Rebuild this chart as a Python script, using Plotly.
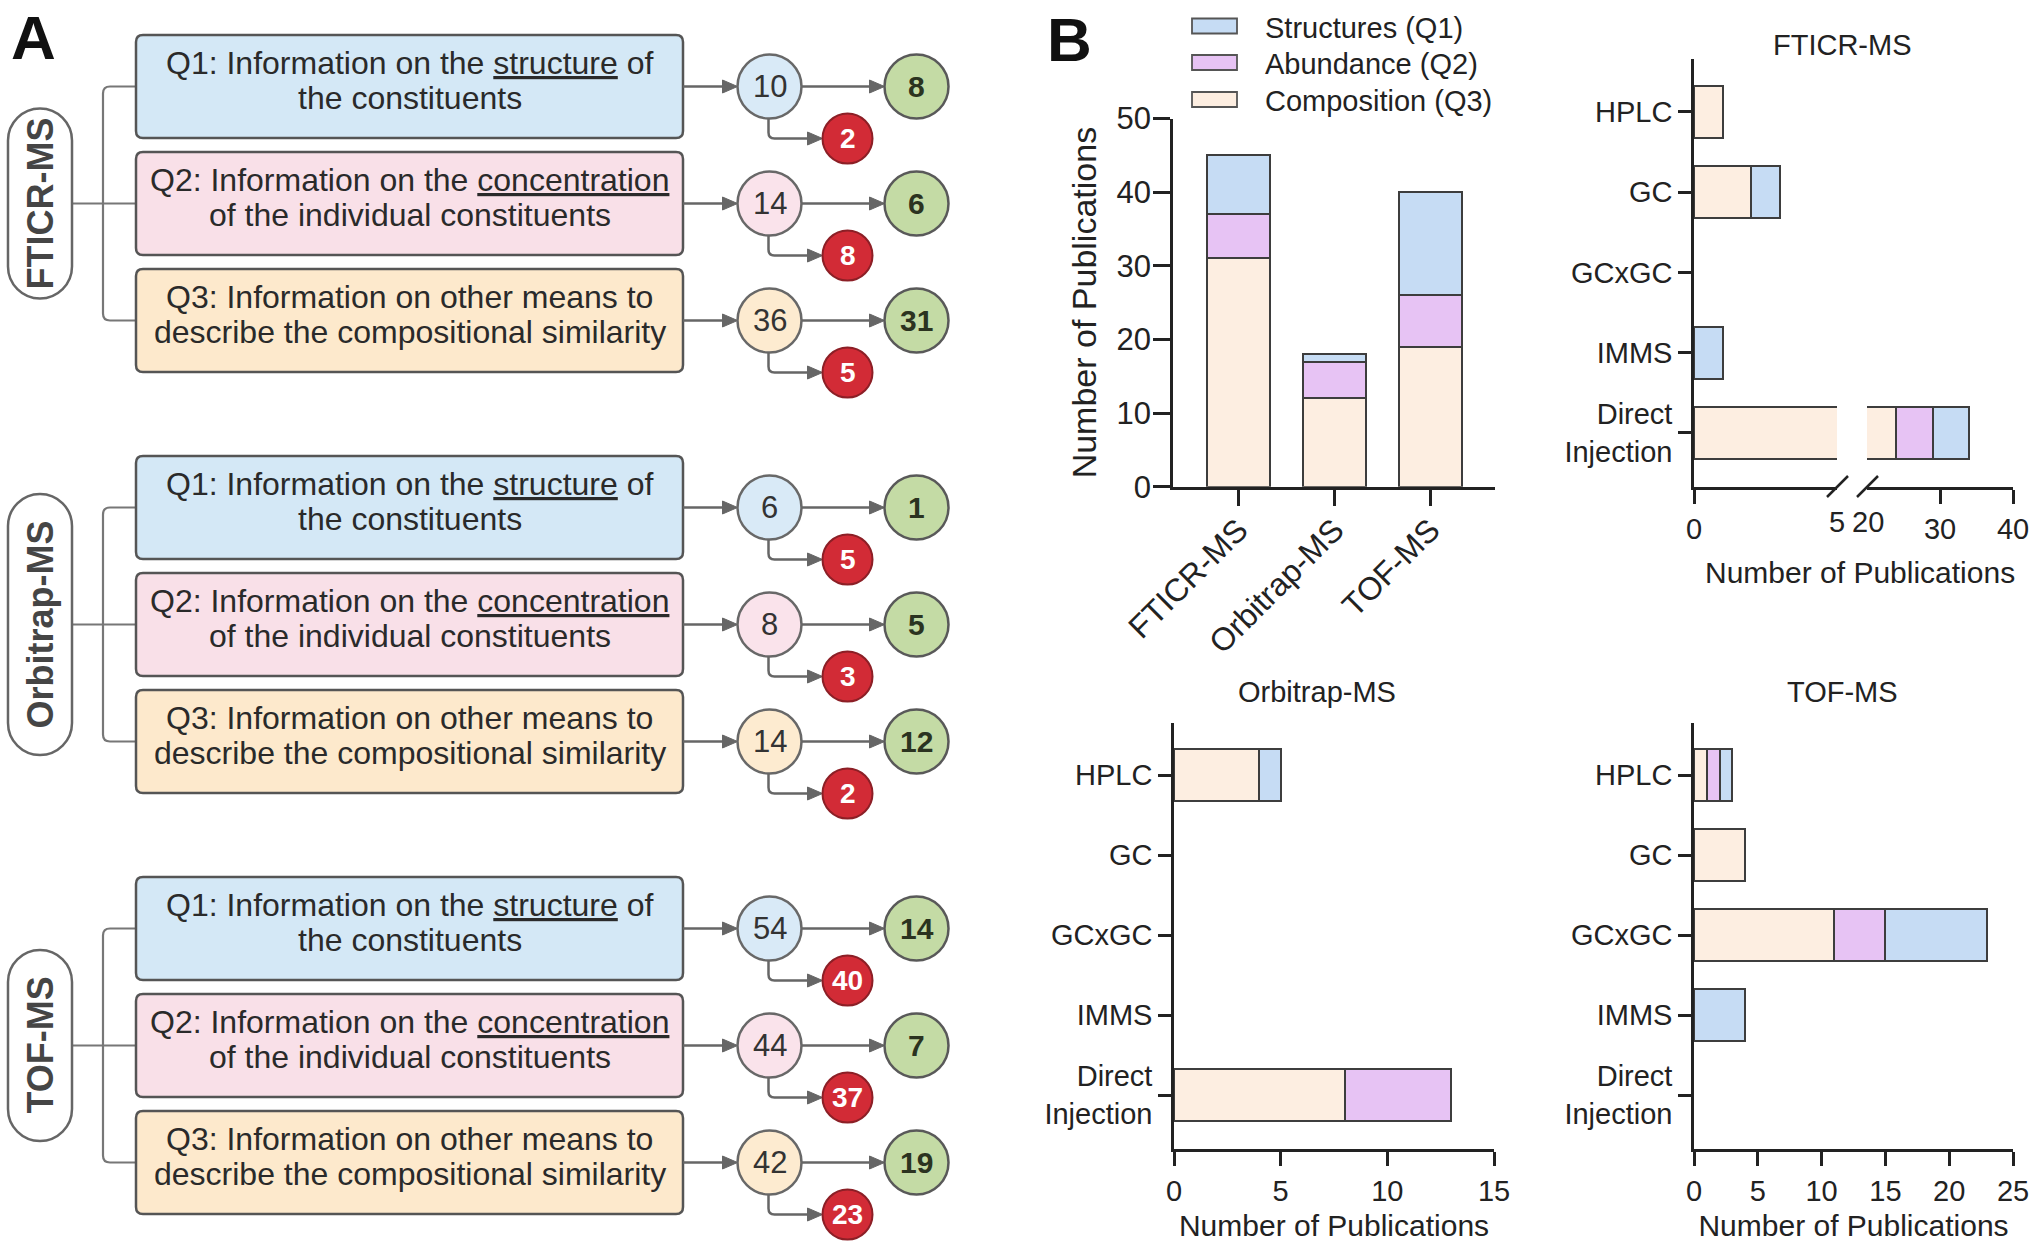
import plotly.graph_objects as go

W, H = 2040, 1256
FONT = "Liberation Sans, Arial, sans-serif"

# ---------------- data ----------------
instruments = ["FTICR-MS", "Orbitrap-MS", "TOF-MS"]
q_line1 = ["Q1: Information on the <u>structure</u> of",
           "Q2: Information on the <u>concentration</u>",
           "Q3: Information on other means to"]
q_line2 = ["the constituents",
           "of the individual constituents",
           "describe the compositional similarity"]

# Panel A: publications per instrument (rows) and question (cols)
total_pubs = [[10, 14, 36], [6, 8, 14], [54, 44, 42]]
answered = [[8, 6, 31], [1, 5, 12], [14, 7, 19]]
not_answered = [[2, 8, 5], [5, 3, 2], [40, 37, 23]]

# Panel B: stacked totals
series_names = ["Structures (Q1)", "Abundance (Q2)", "Composition (Q3)"]
main_q1 = [8, 1, 14]
main_q2 = [6, 5, 7]
main_q3 = [31, 12, 19]

techniques = ["HPLC", "GC", "GCxGC", "IMMS", "Direct<br>Injection"]
fticr_q3 = [1, 2, 0, 0, 24]
fticr_q2 = [0, 0, 0, 0, 5]
fticr_q1 = [0, 1, 0, 1, 5]
orbi_q3 = [4, 0, 0, 0, 8]
orbi_q2 = [0, 0, 0, 0, 5]
orbi_q1 = [1, 0, 0, 0, 0]
tof_q3 = [1, 4, 11, 0, 0]
tof_q2 = [1, 0, 4, 0, 0]
tof_q1 = [1, 0, 8, 4, 0]

# ---------------- styles ----------------
C_Q1, C_Q2, C_Q3 = "#c6dcf4", "#e7c3f4", "#fdeee1"
BAR_LINE = "#3d3d3d"
BOX_FILL = ["#d4e8f6", "#f9e0e8", "#fde9cc"]
CIRC_FILL = ["#d9eaf7", "#fae3eb", "#fdebd0"]
GREEN = "#c4dba5"
RED = "#d22b36"
ARROW = "#666666"
AXC = "#222222"


def dx(a, b):
    return [a / W, b / W]


def dy(top, bottom):
    return [1 - bottom / H, 1 - top / H]


fig = go.Figure()

# ---------------- Panel B main stacked bars ----------------
for vals, col, name in [(main_q3, C_Q3, series_names[2]),
                        (main_q2, C_Q2, series_names[1]),
                        (main_q1, C_Q1, series_names[0])]:
    fig.add_trace(go.Bar(x=instruments, y=vals, width=0.66, name=name,
                         marker=dict(color=col, line=dict(color=BAR_LINE, width=2)),
                         xaxis="x", yaxis="y", showlegend=False, hoverinfo="skip"))


def nz(v):
    return [a if a else None for a in v]


def hbars(q3, q2, q1, xa, ya):
    for vals, col in [(q3, C_Q3), (q2, C_Q2), (q1, C_Q1)]:
        fig.add_trace(go.Bar(y=techniques, x=nz(vals), orientation="h", width=0.65,
                             marker=dict(color=col, line=dict(color=BAR_LINE, width=2)),
                             xaxis=xa, yaxis=ya, showlegend=False, hoverinfo="skip"))


hbars(fticr_q3, fticr_q2, fticr_q1, "x2", "y2")
hbars(fticr_q3, fticr_q2, fticr_q1, "x3", "y2")
hbars(orbi_q3, orbi_q2, orbi_q1, "x4", "y4")
hbars(tof_q3, tof_q2, tof_q1, "x5", "y5")

# invisible trace on pixel overlay axes
fig.add_trace(go.Scatter(x=[0], y=[0], mode="markers", marker=dict(opacity=0),
                         xaxis="x6", yaxis="y6", showlegend=False, hoverinfo="skip"))

axbase = dict(showline=True, linecolor=AXC, linewidth=2.5, ticks="outside",
              tickcolor=AXC, tickwidth=2.5, showgrid=False, zeroline=False,
              automargin=False,
              tickfont=dict(family=FONT, size=29, color=AXC), fixedrange=True)

cat_range = [4.675, -0.66]

layout_axes = dict(
    xaxis=dict(axbase, domain=dx(1173, 1495), anchor="y", type="category",
               range=[-0.682, 2.672], ticklen=17, tickangle=-45,
               ticklabelstandoff=-8,
               tickfont=dict(family=FONT, size=32, color=AXC)),
    yaxis=dict(axbase, domain=dy(118.5, 486.7), anchor="x", range=[0, 50],
               tickvals=[0, 10, 20, 30, 40, 50], ticklen=17,
               ticklabelstandoff=-4,
               tickfont=dict(family=FONT, size=31, color=AXC),
               title=dict(text="Number of Publications", standoff=10,
                          font=dict(family=FONT, size=34, color=AXC))),
    # FTICR broken axis
    yaxis2=dict(axbase, domain=dy(59, 487), anchor="x2", type="category",
                categoryorder="array", categoryarray=techniques,
                range=cat_range, ticklen=13),
    xaxis2=dict(axbase, domain=dx(1694, 1837), anchor="y2", range=[0, 5],
                tickvals=[0], ticklen=14),
    xaxis3=dict(axbase, domain=dx(1867, 2013), anchor="y2", range=[20, 40],
                tickvals=[30, 40], ticklen=14),
    # Orbitrap
    yaxis4=dict(axbase, domain=dy(722.5, 1149), anchor="x4", type="category",
                categoryorder="array", categoryarray=techniques,
                range=cat_range, ticklen=13),
    xaxis4=dict(axbase, domain=dx(1174, 1494), anchor="y4", range=[0, 15],
                tickvals=[0, 5, 10, 15], ticklen=14,
                title=dict(text="Number of Publications", standoff=10,
                           font=dict(family=FONT, size=30, color=AXC))),
    # TOF
    yaxis5=dict(axbase, domain=dy(722.5, 1149), anchor="x5", type="category",
                categoryorder="array", categoryarray=techniques,
                range=cat_range, ticklen=13),
    xaxis5=dict(axbase, domain=dx(1694, 2013), anchor="y5", range=[0, 25],
                tickvals=[0, 5, 10, 15, 20, 25], ticklen=14,
                title=dict(text="Number of Publications", standoff=10,
                           font=dict(family=FONT, size=30, color=AXC))),
    # pixel overlay
    xaxis6=dict(domain=[0, 1], range=[0, W], visible=False, anchor="y6",
                fixedrange=True, automargin=False),
    yaxis6=dict(domain=[0, 1], range=[H, 0], visible=False, anchor="x6",
                fixedrange=True, automargin=False),
)

shapes = []
annotations = []
P = dict(xref="x6", yref="y6")


def line(x0, y0, x1, y1, color=ARROW, width=2.5):
    shapes.append(dict(type="line", x0=x0, y0=y0, x1=x1, y1=y1,
                       line=dict(color=color, width=width), layer="above", **P))


def path(d, fill=None, color=ARROW, width=2.5):
    s = dict(type="path", path=d, line=dict(color=color, width=width), layer="above", **P)
    if fill:
        s["fillcolor"] = fill
    shapes.append(s)


def circle(cx, cy, r, fill, color, width=2.5):
    shapes.append(dict(type="circle", x0=cx - r, x1=cx + r, y0=cy - r, y1=cy + r,
                       fillcolor=fill, line=dict(color=color, width=width), layer="above", **P))


def text(x, y, s, size, color="#2a2a2a", bold=False, angle=0, xanchor="center"):
    if bold:
        s = "<b>" + s + "</b>"
    annotations.append(dict(x=x, y=y, text=s, showarrow=False, textangle=angle,
                            xanchor=xanchor, yanchor="middle",
                            font=dict(family=FONT, size=size, color=color), **P))


def tri_right(tx, ty):
    path(f"M {tx-15},{ty-6.5} L {tx},{ty} L {tx-15},{ty+6.5} Z", fill=ARROW, width=1)


def rrect(x0, y0, x1, y1, r):
    return (f"M {x0+r},{y0} L {x1-r},{y0} Q {x1},{y0} {x1},{y0+r} L {x1},{y1-r} "
            f"Q {x1},{y1} {x1-r},{y1} L {x0+r},{y1} Q {x0},{y1} {x0},{y1-r} "
            f"L {x0},{y0+r} Q {x0},{y0} {x0+r},{y0} Z")


def pill(x0, y0, x1, y1):
    r = (x1 - x0) / 2
    k = 0.5523 * r
    cx = (x0 + x1) / 2
    return (f"M {x0},{y0+r} C {x0},{y0+r-k} {cx-k},{y0} {cx},{y0} "
            f"C {cx+k},{y0} {x1},{y0+r-k} {x1},{y0+r} L {x1},{y1-r} "
            f"C {x1},{y1-r+k} {cx+k},{y1} {cx},{y1} "
            f"C {cx-k},{y1} {x0},{y1-r+k} {x0},{y1-r} Z")


# ---------------- Panel A ----------------
group_tops = [35, 456, 877]
box_rel = [0, 117, 234]
box_h = 103
bx0, bx1 = 136, 683
c1x, c2x, c3x = 769.5, 916.5, 847.5
r1, r3 = 32, 25
pill_h = [190, 261, 191]
brx = 103

for g, top in enumerate(group_tops):
    centers = [top + b + box_h / 2 for b in box_rel]
    # bracket
    q1c, q2c, q3c = centers
    path(f"M {bx0},{q1c} L {brx+7},{q1c} Q {brx},{q1c} {brx},{q1c+7} L {brx},{q3c-7} "
         f"Q {brx},{q3c} {brx+7},{q3c} L {bx0},{q3c}", color="#777777", width=2.2)
    line(72, q2c, bx0, q2c, color="#777777", width=2.2)
    # pill
    ph = pill_h[g]
    path(pill(8, q2c - ph / 2, 72, q2c + ph / 2), fill="white", color="#666666", width=2.5)
    text(40, q2c, instruments[g], 36, color="#454545", bold=True, angle=-90)
    for q in range(3):
        c = centers[q]
        bt = top + box_rel[q]
        path(rrect(bx0, bt, bx1, bt + box_h, 7), fill=BOX_FILL[q], color="#555555", width=2.5)
        text((bx0 + bx1) / 2, c - 24, q_line1[q], 32)
        text((bx0 + bx1) / 2, c + 11, q_line2[q], 32)
        # arrows
        line(bx1, c, c1x - r1 - 12, c)
        tri_right(c1x - r1, c)
        line(c1x + r1, c, c2x - r1 - 12, c)
        tri_right(c2x - r1, c)
        ry = c + 52
        path(f"M {c1x-1},{c+r1} L {c1x-1},{ry-6} Q {c1x-1},{ry} {c1x+5},{ry} L {c3x-r3-12},{ry}")
        tri_right(c3x - r3, ry)
        circle(c1x, c, r1, CIRC_FILL[q], "#686868")
        circle(c2x, c, r1, GREEN, "#595959")
        circle(c3x, ry, r3, RED, "#8c1f26", width=2)
        text(c1x, c, str(total_pubs[g][q]), 31, color="#333333")
        text(c2x, c, str(answered[g][q]), 30, color="#2b3320", bold=True)
        text(c3x, ry, str(not_answered[g][q]), 28, color="white", bold=True)

# panel letters
text(33, 37, "A", 62, color="#111111", bold=True)
text(1069, 39, "B", 62, color="#111111", bold=True)

# ---------------- Panel B decorations ----------------
leg_y = [26, 62.5, 99.5]
for yy, col, name in zip(leg_y, [C_Q1, C_Q2, C_Q3], series_names):
    shapes.append(dict(type="rect", x0=1192, x1=1237, y0=yy - 7.5, y1=yy + 7.5,
                       fillcolor=col, line=dict(color="#555555", width=1.8), layer="above", **P))
    text(1263, yy + 1.5, name, 29, color=AXC, xanchor="left")

# subplot titles
text(1842, 45, "FTICR-MS", 29, color=AXC)
text(1317, 692, "Orbitrap-MS", 29, color=AXC)
text(1842, 692, "TOF-MS", 29, color=AXC)

# broken axis slashes and labels
line(1827, 497, 1848, 476, color=AXC, width=2.5)
line(1857, 497, 1878, 476, color=AXC, width=2.5)
text(1837, 522, "5", 29, color=AXC)
text(1868, 522, "20", 29, color=AXC)
text(1860, 572, "Number of Publications", 30, color=AXC)

fig.update_layout(
    width=W, height=H, margin=dict(l=0, r=0, t=0, b=0, autoexpand=False),
    paper_bgcolor="white", plot_bgcolor="rgba(0,0,0,0)",
    barmode="stack", showlegend=False,
    font=dict(family=FONT, color=AXC),
    shapes=shapes, annotations=annotations,
    **layout_axes,
)

fig.write_html("out.html", config={"displayModeBar": False},
               post_script="document.body.style.margin='0px';"
                           "document.body.style.overflow='hidden';")
